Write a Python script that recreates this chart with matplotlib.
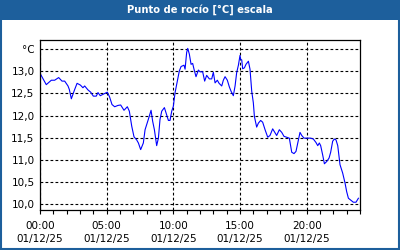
import matplotlib
matplotlib.use("Agg")
from matplotlib import pyplot as plt
from matplotlib.patches import Rectangle

# dew point readings (hour of day, degC)
hours = [0.05, 0.47, 0.85, 1.1, 1.4, 1.65, 1.85, 2.1, 2.2, 2.35, 2.47, 2.6, 2.78, 3.03,
         3.22, 3.35, 3.6, 3.8, 4.0, 4.22, 4.35, 4.52, 4.72, 5.05, 5.22, 5.4, 5.6, 5.85,
         6.05, 6.3, 6.55, 6.7, 6.88, 7.05, 7.25, 7.38, 7.55, 7.75, 7.88, 8.12, 8.33,
         8.45, 8.58, 8.75, 8.88, 9.0, 9.13, 9.33, 9.5, 9.63, 9.75, 9.88, 10.0, 10.13,
         10.3, 10.45, 10.58, 10.8, 10.88, 11.0, 11.08, 11.2, 11.33, 11.45, 11.55, 11.7,
         11.88, 12.0, 12.2, 12.35, 12.5, 12.7, 12.88, 13.0, 13.13, 13.3, 13.43, 13.63,
         13.75, 13.88, 14.05, 14.2, 14.33, 14.5, 14.63, 14.75, 14.88, 15.0, 15.05, 15.13,
         15.2, 15.33, 15.45, 15.63, 15.75, 15.88, 16.0, 16.08, 16.25, 16.38, 16.55, 16.7,
         16.88, 17.08, 17.25, 17.45, 17.63, 17.75, 17.95, 18.13, 18.3, 18.5, 18.7, 18.88,
         19.05, 19.2, 19.38, 19.5, 19.63, 19.8, 20.0, 20.3, 20.5, 20.7, 20.83, 20.95,
         21.05, 21.2, 21.33, 21.5, 21.68, 21.8, 21.95, 22.08, 22.2, 22.33, 22.5, 22.7,
         22.88, 23.0, 23.13, 23.3, 23.5, 23.7, 23.88]
dew = [12.93, 12.70, 12.80, 12.80, 12.86, 12.78, 12.78, 12.67, 12.59, 12.38, 12.48, 12.59,
       12.73, 12.69, 12.63, 12.67, 12.58, 12.53, 12.44, 12.44, 12.52, 12.45, 12.48, 12.53,
       12.42, 12.25, 12.20, 12.23, 12.24, 12.12, 12.20, 12.10, 11.76, 11.52, 11.45, 11.38,
       11.23, 11.38, 11.68, 11.91, 12.12, 11.87, 11.68, 11.32, 11.49, 11.91, 12.10, 12.18,
       12.02, 11.89, 11.89, 12.10, 12.21, 12.52, 12.78, 13.01, 13.11, 13.14, 13.05, 13.43,
       13.52, 13.39, 13.16, 13.18, 13.05, 12.88, 13.03, 12.99, 12.99, 12.78, 12.91, 12.83,
       12.83, 12.98, 12.74, 12.80, 12.73, 12.67, 12.80, 12.88, 12.80, 12.65, 12.55, 12.45,
       12.67, 12.97, 13.14, 13.36, 13.27, 13.26, 13.06, 13.08, 13.16, 13.23, 13.05, 12.55,
       12.29, 11.98, 11.74, 11.83, 11.89, 11.85, 11.68, 11.51, 11.55, 11.70, 11.61, 11.55,
       11.68, 11.62, 11.53, 11.51, 11.49, 11.17, 11.14, 11.19, 11.45, 11.62, 11.55, 11.49,
       11.49, 11.49, 11.47, 11.39, 11.32, 11.38, 11.32, 11.11, 10.91, 10.96, 11.04, 11.17,
       11.42, 11.47, 11.45, 11.32, 10.89, 10.70, 10.47, 10.28, 10.13, 10.09, 10.04, 10.04,
       10.13]

xticks = [0, 5, 10, 15, 20]
xlabels = ["00:00\n01/12/25", "05:00\n01/12/25", "10:00\n01/12/25",
           "15:00\n01/12/25", "20:00\n01/12/25"]
yticks = [10.0, 10.5, 11.0, 11.5, 12.0, 12.5, 13.0, 13.5]
ylabels = ["10,0", "10,5", "11,0", "11,5", "12,0", "12,5", "13,0", "°C"]

blue = "#1d5f9c"
plt.rcParams['font.family'] = ['DejaVu Sans']

fig = plt.figure(figsize=(4, 2.5), dpi=100)
fig.patch.set_facecolor("white")
# title bar + border
fig.patches.append(Rectangle((0, 1 - 20/250), 1, 20/250, transform=fig.transFigure,
                             facecolor=blue, edgecolor="none", zorder=0))
fig.patches.append(Rectangle((0.0025, 0.004), 0.995, 0.994, transform=fig.transFigure,
                             facecolor="none", edgecolor=blue, linewidth=1.5, zorder=1))
fig.text(0.5, 1 - 10/250, "Punto de rocío [°C] escala", color="white", fontsize=7.2,
         fontweight="bold", ha="center", va="center")

ax = fig.add_axes([0.1, 0.16, 0.8, 0.68])
ax.plot(hours, dew, color="#0000ff", linewidth=0.8)
ax.set_xlim(0, 24)
ax.set_ylim(9.864, 13.71)

ax.set_xticks(xticks)
ax.set_xticklabels(xlabels, fontsize=7.5, linespacing=1.35)
ax.set_xticks(range(0, 25), minor=True)
ax.tick_params(axis="x", which="minor", length=3, width=0.8, direction="out")
ax.tick_params(axis="x", which="major", length=3, width=0.8, pad=5)
ax.set_yticks(yticks)
ax.set_yticklabels(ylabels, fontsize=7.5)
ax.tick_params(axis="y", length=0, pad=4)

ax.grid(True, which="major", color="black", linestyle=(0, (2.5, 2)), linewidth=0.8)
for s in ax.spines.values():
    s.set_color("black")
    s.set_linewidth(0.9)

fig.savefig("out.png", dpi=100)
